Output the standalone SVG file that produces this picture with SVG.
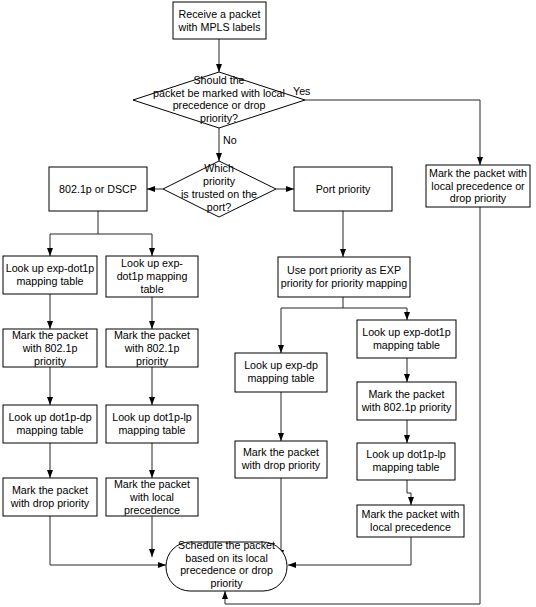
<svg xmlns="http://www.w3.org/2000/svg" width="536" height="607" viewBox="0 0 536 607">
<defs>
<marker id="ah" markerWidth="8" markerHeight="6" refX="8" refY="3" orient="auto" markerUnits="userSpaceOnUse">
<path d="M0,0 L8,3 L0,6 Z" fill="#000"/>
</marker>
<style>
.b{fill:#fff;stroke:#000;stroke-width:1}
.t{font-family:"Liberation Sans",Arial,sans-serif;font-size:10.7px;fill:#000;text-anchor:middle}
.l{font-family:"Liberation Sans",Arial,sans-serif;font-size:10.7px;fill:#000}
.c{fill:none;stroke:#262626;stroke-width:1}
.a{fill:none;stroke:#262626;stroke-width:1;marker-end:url(#ah)}
</style>
</defs>
<rect width="536" height="607" fill="#fff"/>
<g id="connectors">
<path class="a" d="M219,39 V72"/>
<path class="a" d="M305,100 H480 V165"/>
<path class="a" d="M219,128 V161"/>
<path class="a" d="M163,189 H147"/>
<path class="a" d="M276,189 H294"/>
<path class="c" d="M98,211 V234 M50,234 H152"/>
<path class="a" d="M50,234 V256"/>
<path class="a" d="M152,234 V256"/>
<path class="a" d="M50,294 V329"/>
<path class="a" d="M50,367 V405"/>
<path class="a" d="M50,443 V478"/>
<path class="a" d="M50,516 V565 H166"/>
<path class="a" d="M152,297 V329"/>
<path class="a" d="M152,367 V405"/>
<path class="a" d="M152,443 V478"/>
<path class="a" d="M152,516 V557"/>
<path class="a" d="M343,211 V257"/>
<path class="c" d="M343,297 V308 M281,308 H407"/>
<path class="a" d="M281,308 V353"/>
<path class="a" d="M407,308 V320"/>
<path class="a" d="M281,392 V441"/>
<path class="a" d="M281,478 V558"/>
<path class="a" d="M407,358 V382"/>
<path class="a" d="M407,420 V443"/>
<path class="a" d="M407,480 V493 H411 V505"/>
<path class="a" d="M411,537 V565 H288"/>
<path class="a" d="M480,207 V604 H225 V591"/>
</g>
<g id="labels">
<text class="l" x="293" y="95">Yes</text>
<text class="l" x="223" y="144">No</text>
</g>
<g id="start">
<rect class="b" x="173" y="2" width="93" height="37"/>
<text class="t" x="219.5" y="18">Receive a packet</text>
<text class="t" x="219.5" y="31">with MPLS labels</text>
</g>
<g id="decision1">
<polygon class="b" points="219,72 305,100 219,128 133,100"/>
<text class="t" x="219" y="84">Should the</text>
<text class="t" x="219" y="96.5">packet be marked with local</text>
<text class="t" x="219" y="109">precedence or drop</text>
<text class="t" x="219" y="121.5">priority?</text>
</g>
<g id="decision2">
<polygon class="b" points="219,161 276,189 219,217 163,189"/>
<text class="t" x="219" y="172">Which</text>
<text class="t" x="219" y="185">priority</text>
<text class="t" x="219" y="198">is trusted on the</text>
<text class="t" x="219" y="211">port?</text>
</g>
<g id="dscp">
<rect class="b" x="49" y="167" width="98" height="44"/>
<text class="t" x="98" y="193">802.1p or DSCP</text>
</g>
<g id="port">
<rect class="b" x="294" y="167" width="98" height="44"/>
<text class="t" x="343" y="193">Port priority</text>
</g>
<g id="l1">
<rect class="b" x="3" y="256" width="94" height="38"/>
<text class="t" x="50" y="272">Look up exp-dot1p</text>
<text class="t" x="50" y="285">mapping table</text>
</g>
<g id="l2">
<rect class="b" x="3" y="329" width="94" height="38"/>
<text class="t" x="50" y="339">Mark the packet</text>
<text class="t" x="50" y="352">with 802.1p</text>
<text class="t" x="50" y="365">priority</text>
</g>
<g id="l3">
<rect class="b" x="3" y="405" width="94" height="38"/>
<text class="t" x="50" y="421">Look up dot1p-dp</text>
<text class="t" x="50" y="434">mapping table</text>
</g>
<g id="l4">
<rect class="b" x="3" y="478" width="94" height="38"/>
<text class="t" x="50" y="494">Mark the packet</text>
<text class="t" x="50" y="507">with drop priority</text>
</g>
<g id="c1">
<rect class="b" x="106" y="256" width="92" height="41"/>
<text class="t" x="152" y="267">Look up exp-</text>
<text class="t" x="152" y="280">dot1p mapping</text>
<text class="t" x="152" y="293">table</text>
</g>
<g id="c2">
<rect class="b" x="106" y="329" width="92" height="38"/>
<text class="t" x="152" y="339">Mark the packet</text>
<text class="t" x="152" y="352">with 802.1p</text>
<text class="t" x="152" y="365">priority</text>
</g>
<g id="c3">
<rect class="b" x="106" y="405" width="92" height="38"/>
<text class="t" x="152" y="421">Look up dot1p-lp</text>
<text class="t" x="152" y="434">mapping table</text>
</g>
<g id="c4">
<rect class="b" x="106" y="478" width="92" height="38"/>
<text class="t" x="152" y="488">Mark the packet</text>
<text class="t" x="152" y="501">with local</text>
<text class="t" x="152" y="514">precedence</text>
</g>
<g id="useport">
<rect class="b" x="278" y="257" width="132" height="40"/>
<text class="t" x="344" y="274">Use port priority as EXP</text>
<text class="t" x="344" y="287">priority for priority mapping</text>
</g>
<g id="m1">
<rect class="b" x="235" y="353" width="92" height="39"/>
<text class="t" x="281" y="369">Look up exp-dp</text>
<text class="t" x="281" y="382">mapping table</text>
</g>
<g id="m2">
<rect class="b" x="235" y="441" width="92" height="37"/>
<text class="t" x="281" y="456">Mark the packet</text>
<text class="t" x="281" y="469">with drop priority</text>
</g>
<g id="r1">
<rect class="b" x="357" y="320" width="99" height="38"/>
<text class="t" x="406.5" y="336">Look up exp-dot1p</text>
<text class="t" x="406.5" y="349">mapping table</text>
</g>
<g id="r2">
<rect class="b" x="357" y="382" width="99" height="38"/>
<text class="t" x="406.5" y="398">Mark the packet</text>
<text class="t" x="406.5" y="411">with 802.1p priority</text>
</g>
<g id="r3">
<rect class="b" x="357" y="443" width="98" height="37"/>
<text class="t" x="406" y="458">Look up dot1p-lp</text>
<text class="t" x="406" y="471">mapping table</text>
</g>
<g id="r4">
<rect class="b" x="357" y="505" width="107" height="32"/>
<text class="t" x="410.5" y="518">Mark the packet with</text>
<text class="t" x="410.5" y="531">local precedence</text>
</g>
<g id="markyes">
<rect class="b" x="426" y="165" width="104" height="42"/>
<text class="t" x="478" y="177">Mark the packet with</text>
<text class="t" x="478" y="189.5">local precedence or</text>
<text class="t" x="478" y="202">drop priority</text>
</g>
<g id="schedule">
<rect class="b" x="166" y="542" width="121" height="49" rx="24" ry="24"/>
<text class="t" x="226.5" y="549">Schedule the packet</text>
<text class="t" x="226.5" y="561.5">based on its local</text>
<text class="t" x="226.5" y="574">precedence or drop</text>
<text class="t" x="226.5" y="587">priority</text>
</g>
</svg>
